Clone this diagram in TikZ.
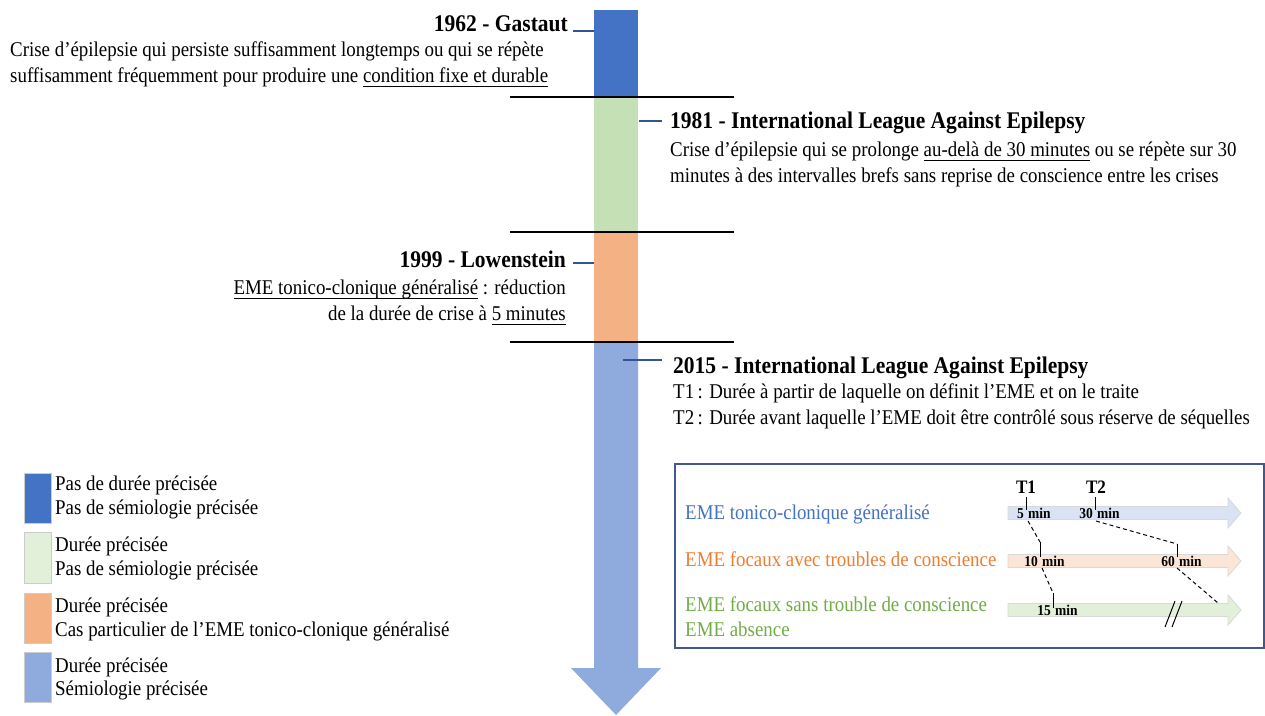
\documentclass[tikz,border=0pt]{standalone}
\usepackage{fontspec}
\setmainfont{Liberation Serif}[FakeStretch=0.9]
\definecolor{barDark}{HTML}{4472C4}
\definecolor{barGreen}{HTML}{C5E0B4}
\definecolor{barOrange}{HTML}{F4B183}
\definecolor{barLight}{HTML}{8FAADC}
\definecolor{legGreen}{HTML}{E2F0D9}
\definecolor{tickBlue}{HTML}{2F5597}
\definecolor{txtBlue}{HTML}{4472C4}
\definecolor{txtOrange}{HTML}{ED7D31}
\definecolor{txtGreen}{HTML}{70AD47}
\definecolor{arrBlue}{HTML}{DAE3F3}
\definecolor{arrOrange}{HTML}{FBE5D6}
\definecolor{arrGreen}{HTML}{E2F0D9}
\definecolor{boxLine}{HTML}{41598B}
\newsavebox\ulbox
\newcommand\myul[1]{\sbox\ulbox{#1}\rlap{\rule[-5pt]{\wd\ulbox}{1.5pt}}\usebox\ulbox}
\begin{document}
\begin{tikzpicture}[x=1pt,y=-1pt,
  txt/.style={inner sep=0pt, font=\fontsize{21}{25}\selectfont},
  ttl/.style={inner sep=0pt, font=\fontsize{23.9}{28}\selectfont\bfseries},
  sepline/.style={line width=1.3pt, black},
  yeartick/.style={line width=2.6pt, tickBlue},
  legsq/.style={draw=black!20, line width=0.6pt},
  minlbl/.style={inner sep=0pt, font=\fontsize{15}{18}\selectfont\bfseries},
  tlbl/.style={inner sep=0pt, font=\fontsize{19}{22}\selectfont\bfseries},
  tmark/.style={line width=1pt, black},
  dashlink/.style={line width=1pt, dash pattern=on 4pt off 3pt},
  blockarr/.style={line width=0.8pt}]
\useasboundingbox (0,0) rectangle (1265,715);
\fill[white] (0,0) rectangle (1265,715);

% ---- timeline bar ----
\fill[barDark] (594,10) rectangle (638,97);
\fill[barGreen] (594,97) rectangle (638,232);
\fill[barOrange] (594,232) rectangle (638,342);
\fill[barLight] (594,342) -- (638,342) -- (638,668) -- (661,668) -- (616,715) -- (571,668) -- (594,668) -- cycle;

% separators
\draw[sepline] (510,97) -- (734,97);
\draw[sepline] (510,232) -- (734,232);
\draw[sepline] (510,342) -- (734,342);

% year ticks
\draw[yeartick] (573,31) -- (594,31);
\draw[yeartick] (639,121) -- (662,121);
\draw[yeartick] (573,263) -- (594,263);
\draw[yeartick] (623,360) -- (662,360);

% ---- 1962 ----
\node[ttl, anchor=base east] (t62) at (568,31) {1962 - Gastaut};
\node[txt, anchor=base west] (d62a) at (10,56) {Crise d’épilepsie qui persiste suffisamment longtemps ou qui se répète};
\node[txt, anchor=base west] (d62b) at (10,82) {suffisamment fréquemment pour produire une \myul{condition fixe et durable}};

% ---- 1981 ----
\node[ttl, anchor=base west] (t81) at (670,128) {1981 - International League Against Epilepsy};
\node[txt, anchor=base west] (d81a) at (670,156) {Crise d’épilepsie qui se prolonge \myul{au-delà de 30 minutes} ou se répète sur 30};
\node[txt, anchor=base west] (d81b) at (670,182) {minutes à des intervalles brefs sans reprise de conscience entre les crises};

% ---- 1999 ----
\node[ttl, anchor=base east] (t99) at (566,267) {1999 - Lowenstein};
\node[txt, anchor=base east] (d99a) at (566,294) {\myul{EME tonico-clonique généralisé} : réduction};
\node[txt, anchor=base east] (d99b) at (566,320) {de la durée de crise à \myul{5 minutes}};

% ---- 2015 ----
\node[ttl, anchor=base west] (t15) at (673,373) {2015 - International League Against Epilepsy};
\node[txt, anchor=base west] (d15a) at (673,398) {T1\,: Durée à partir de laquelle on définit l’EME et on le traite};
\node[txt, anchor=base west] (d15b) at (673,424) {T2\,: Durée avant laquelle l’EME doit être contrôlé sous réserve de séquelles};

% ---- legend ----
\filldraw[legsq, fill=barDark] (24,473) rectangle (51,523);
\filldraw[legsq, fill=legGreen] (24,532) rectangle (51,583);
\filldraw[legsq, fill=barOrange] (24,593) rectangle (51,643);
\filldraw[legsq, fill=barLight] (24,652) rectangle (51,702);
\node[txt, anchor=base west] (lg1a) at (55,490) {Pas de durée précisée};
\node[txt, anchor=base west] (lg1b) at (55,514) {Pas de sémiologie précisée};
\node[txt, anchor=base west] (lg2a) at (55,551) {Durée précisée};
\node[txt, anchor=base west] (lg2b) at (55,575) {Pas de sémiologie précisée};
\node[txt, anchor=base west] (lg3a) at (55,612) {Durée précisée};
\node[txt, anchor=base west] (lg3b) at (55,636) {Cas particulier de l’EME tonico-clonique généralisé};
\node[txt, anchor=base west] (lg4a) at (55,672) {Durée précisée};
\node[txt, anchor=base west] (lg4b) at (55,695) {Sémiologie précisée};

% ---- inset ----
\draw[boxLine, line width=1.2pt] (675,464) rectangle (1264,648);
\node[txt, text=txtBlue, anchor=base west] (il1) at (685,519) {EME tonico-clonique généralisé};
\node[txt, text=txtOrange, anchor=base west] (il2) at (685,566) {EME focaux avec troubles de conscience};
\node[txt, text=txtGreen, anchor=base west] (il3) at (685,611) {EME focaux sans trouble de conscience};
\node[txt, text=txtGreen, anchor=base west] (il4) at (685,636) {EME absence};

% block arrows
\filldraw[blockarr, fill=arrBlue, draw=black!15] (1008,506.5) -- (1228,506.5) -- (1228,498) -- (1241,513) -- (1228,528) -- (1228,519.5) -- (1008,519.5) -- cycle;
\filldraw[blockarr, fill=arrOrange, draw=black!15] (1008,554.5) -- (1228,554.5) -- (1228,546) -- (1241,561) -- (1228,576) -- (1228,567.5) -- (1008,567.5) -- cycle;
\filldraw[blockarr, fill=arrGreen, draw=black!15] (1008,603.5) -- (1228,603.5) -- (1228,595) -- (1241,610) -- (1228,625) -- (1228,616.5) -- (1008,616.5) -- cycle;

% T labels
\node[tlbl, anchor=base] (T1) at (1026,493) {T1};
\node[tlbl, anchor=base] (T2) at (1096,493) {T2};

% tick coordinates
\coordinate (a1t) at (1026,497); \coordinate (a1b) at (1026,510);
\coordinate (a2t) at (1095,497); \coordinate (a2b) at (1095,510);
\coordinate (b1t) at (1040,542); \coordinate (b1b) at (1040,557);
\coordinate (b2t) at (1177,544); \coordinate (b2b) at (1177,557);
\coordinate (c1t) at (1053,593); \coordinate (c1b) at (1053,608);
\coordinate (c2e) at (1218,603);
\draw[tmark] (a1t) -- (a1b);
\draw[tmark] (a2t) -- (a2b);
\draw[tmark] (b1t) -- (b1b);
\draw[tmark] (b2t) -- (b2b);
\draw[tmark] (c1t) -- (c1b);

% minute labels
\node[minlbl, anchor=base east] (n5) at (1024,518) {5};
\node[minlbl, anchor=base west] (m5) at (1028,518) {min};
\node[minlbl, anchor=base east] (n30) at (1093,518) {30};
\node[minlbl, anchor=base west] (m30) at (1097,518) {min};
\node[minlbl, anchor=base east] (n10) at (1038,566) {10};
\node[minlbl, anchor=base west] (m10) at (1042,566) {min};
\node[minlbl, anchor=base east] (n60) at (1175,566) {60};
\node[minlbl, anchor=base west] (m60) at (1179,566) {min};
\node[minlbl, anchor=base east] (n15) at (1051,615) {15};
\node[minlbl, anchor=base west] (m15) at (1055,615) {min};

% dashed links
\coordinate (a1d) at (1028,521);
\coordinate (a2d) at (1096,521);
\coordinate (b1d) at (1042,568);
\coordinate (b2d) at (1177,568);
\draw[dashlink] (a1d) -- (b1t);
\draw[dashlink] (a2d) -- (b2t);
\draw[dashlink] (b1d) -- (c1t);
\draw[dashlink] (b2d) -- (c2e);

% break mark
\coordinate (br1a) at (1165,627); \coordinate (br1b) at (1175,601);
\coordinate (br2a) at (1172,627); \coordinate (br2b) at (1182,601);
\draw[tmark] (br1a) -- (br1b);
\draw[tmark] (br2a) -- (br2b);
\end{tikzpicture}
\end{document}
